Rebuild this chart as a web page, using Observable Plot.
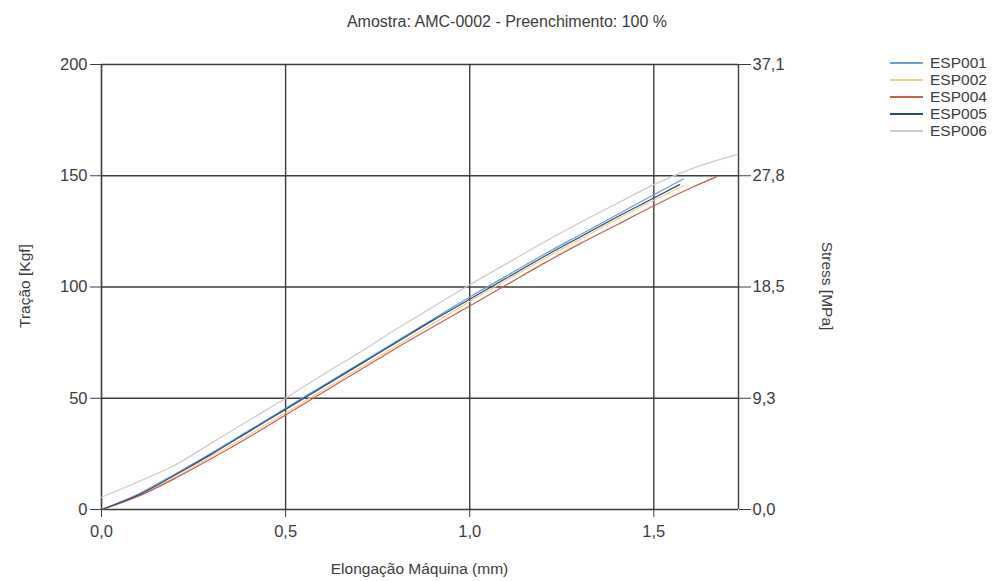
<!DOCTYPE html>
<html>
<head>
<meta charset="utf-8">
<script src="https://cdn.jsdelivr.net/npm/d3@7"></script>
<script src="https://cdn.jsdelivr.net/npm/@observablehq/plot@0.6"></script>
<style>
  body { margin: 0; background: #fff; font-family: "Liberation Sans", Arial, sans-serif; }
  #wrap { position: relative; width: 994px; height: 581px; overflow: hidden; }
  #chart { position: absolute; left: 0; top: 0; }
  .txt { position: absolute; color: #3c3c3c; font-size: 15.5px; white-space: nowrap; line-height: 1; }
  #title { left: 0; width: 1014px; top: 14px; text-align: center; font-size: 16px; }
  #xlabel { left: 101px; width: 637px; top: 561px; text-align: center; }
  #ylabel { left: 25px; top: 286px; transform: translate(-50%, -50%) rotate(-90deg); }
  #y2label { left: 827px; top: 286px; transform: translate(-50%, -50%) rotate(90deg); }
  #legend { position: absolute; left: 890px; top: 54px; font-size: 15.5px; color: #3c3c3c; }
  .li { display: flex; align-items: center; height: 17px; }
  .sw { width: 33px; height: 2px; margin-right: 7px; }
</style>
</head>
<body>
<div id="wrap">
  <div id="chart"></div>
  <div id="title" class="txt"></div>
  <div id="xlabel" class="txt"></div>
  <div id="ylabel" class="txt"></div>
  <div id="y2label" class="txt"></div>
  <div id="legend"></div>
</div>
<script>
const titleText = "Amostra: AMC-0002 - Preenchimento: 100 %";
const xLabel = "Elongação Máquina (mm)";
const yLabel = "Tração [Kgf]";
const y2Label = "Stress [MPa]";

const seriesNames = ["ESP001", "ESP002", "ESP004", "ESP005", "ESP006"];
const seriesColors = ["#6b9fd3", "#f0cf86", "#c4604c", "#294a7c", "#cacaca"];

const xTicks = [0, 0.5, 1.0, 1.5];
const xTickLabels = ["0,0", "0,5", "1,0", "1,5"];
const yTicks = [0, 50, 100, 150, 200];
const yTickLabels = ["0", "50", "100", "150", "200"];
const stressTickLabels = ["0,0", "9,3", "18,5", "27,8", "37,1"];

const esp001X = [0, 0.1, 0.2, 0.3, 0.4, 0.5, 0.6, 0.7, 0.8, 0.9, 1.0, 1.1, 1.2, 1.3, 1.4, 1.5, 1.58];
const esp001Y = [0, 7, 16, 25.5, 35.5, 45.5, 55.5, 65.5, 75.5, 85.5, 95.5, 105, 114.5, 123.5, 132.5, 141.5, 148.5];

const esp002X = [0, 0.1, 0.2, 0.3, 0.4, 0.5, 0.6, 0.7, 0.8, 0.9, 1.0, 1.1, 1.2, 1.3, 1.4, 1.5, 1.58];
const esp002Y = [0, 6, 14.5, 24, 33.5, 43.5, 53.5, 63.5, 73.5, 83.5, 93.5, 103, 112.5, 121.5, 130.5, 139, 145.5];

const esp004X = [0, 0.1, 0.2, 0.3, 0.4, 0.5, 0.6, 0.7, 0.8, 0.9, 1.0, 1.1, 1.2, 1.3, 1.4, 1.5, 1.6, 1.67];
const esp004Y = [0, 6, 14, 23, 32.5, 42.5, 52.5, 62.5, 72.5, 82, 91.5, 101, 110.5, 119.5, 128, 136.5, 144.5, 149.5];

const esp005X = [0, 0.1, 0.2, 0.3, 0.4, 0.5, 0.6, 0.7, 0.8, 0.9, 1.0, 1.1, 1.2, 1.3, 1.4, 1.5, 1.57];
const esp005Y = [0, 6.5, 15.5, 25, 35, 45, 55, 65, 75, 85, 94.5, 104, 113.5, 122.5, 131.5, 140, 146];

const esp006X = [0, 0.1, 0.2, 0.3, 0.4, 0.5, 0.6, 0.7, 0.8, 0.9, 1.0, 1.1, 1.2, 1.3, 1.4, 1.5, 1.6, 1.725];
const esp006Y = [5.5, 12.5, 20, 30, 40, 50, 60.5, 70.5, 81, 91, 101, 110.5, 120, 129, 137.5, 146, 153, 159.5];

const seriesX = [esp001X, esp002X, esp004X, esp005X, esp006X];
const seriesY = [esp001Y, esp002Y, esp004Y, esp005Y, esp006Y];

const data = [];
seriesNames.forEach((name, i) => {
  seriesX[i].forEach((x, j) => data.push({ series: name, x, y: seriesY[i][j] }));
});

const xMax = 1.73;
const gridColor = "#3d3d3d";
const textColor = "#3c3c3c";

const chart = Plot.plot({
  width: 994,
  height: 581,
  marginLeft: 101,
  marginRight: 256,
  marginTop: 64,
  marginBottom: 72,
  style: { fontFamily: "'Liberation Sans', Arial, sans-serif", fontSize: "16.5px", color: textColor },
  x: { domain: [0, xMax] },
  y: { domain: [0, 200] },
  color: { domain: seriesNames, range: seriesColors },
  marks: [
    Plot.gridX(xTicks.slice(1), { stroke: gridColor, strokeOpacity: 1, strokeWidth: 1.4 }),
    Plot.gridY(yTicks.slice(1, 4), { stroke: gridColor, strokeOpacity: 1, strokeWidth: 1.4 }),
    Plot.ruleY([200], { stroke: gridColor, strokeWidth: 1.4 }),
    Plot.ruleY([0], { stroke: gridColor, strokeWidth: 1.6 }),
    Plot.ruleX([0], { stroke: gridColor, strokeWidth: 1.6 }),
    Plot.ruleX([xMax], { stroke: gridColor, strokeWidth: 1.4 }),
    Plot.axisX({ ticks: xTicks, tickFormat: (d, i) => xTickLabels[i], tickSize: 8, tickPadding: 8, stroke: gridColor, strokeOpacity: 1, label: null, fill: textColor, fontSize: 16.5 }),
    Plot.axisY({ anchor: "left", ticks: yTicks, tickFormat: (d, i) => yTickLabels[i], tickSize: 11, tickPadding: 3, stroke: gridColor, strokeOpacity: 1, label: null, fill: textColor, fontSize: 16.5 }),
    Plot.axisY({ anchor: "right", ticks: yTicks, tickFormat: (d, i) => stressTickLabels[i], tickSize: 12, tickPadding: 2, stroke: gridColor, strokeOpacity: 1, label: null, fill: textColor, fontSize: 16.5 }),
    Plot.line(data, { x: "x", y: "y", z: "series", stroke: "series", strokeWidth: 1.2, curve: "monotone-x" })
  ]
});
document.getElementById("chart").appendChild(chart);

document.getElementById("title").textContent = titleText;
document.getElementById("xlabel").textContent = xLabel;
document.getElementById("ylabel").textContent = yLabel;
document.getElementById("y2label").textContent = y2Label;

const legend = document.getElementById("legend");
seriesNames.forEach((name, i) => {
  const row = document.createElement("div");
  row.className = "li";
  const sw = document.createElement("div");
  sw.className = "sw";
  sw.style.background = seriesColors[i];
  const t = document.createElement("span");
  t.textContent = name;
  row.appendChild(sw);
  row.appendChild(t);
  legend.appendChild(row);
});
</script>
</body>
</html>
